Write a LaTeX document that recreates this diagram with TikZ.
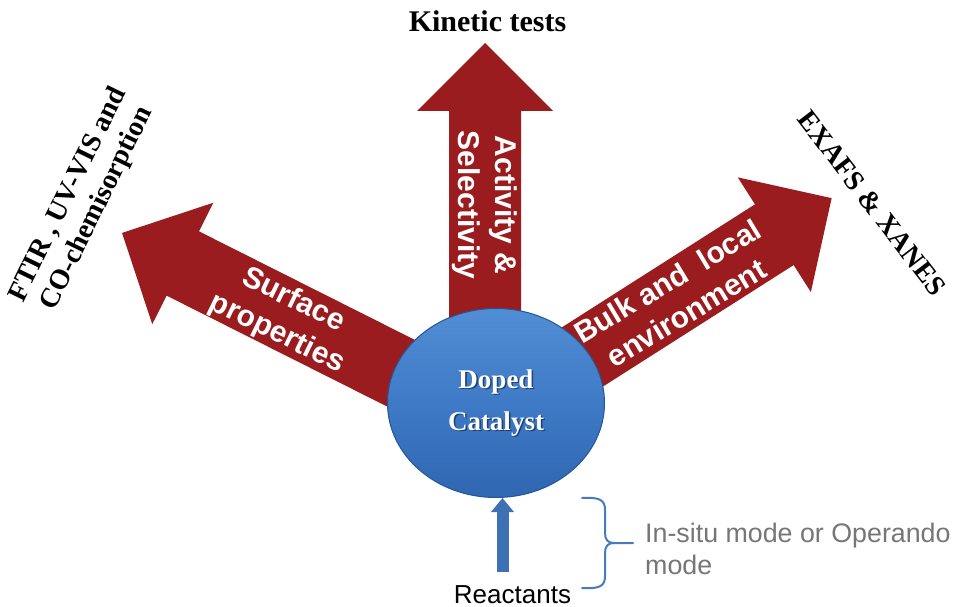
\documentclass[tikz,border=0pt]{standalone}
\usepackage{fontspec}
\setmainfont{Liberation Serif}
\newfontfamily\arialfont{Liberation Sans}
\usetikzlibrary{arrows.meta,shapes.geometric}

\definecolor{arrowred}{RGB}{155,28,30}
\definecolor{catlight}{RGB}{82,142,212}
\definecolor{catmid}{RGB}{62,122,198}
\definecolor{catdark}{RGB}{48,102,178}
\definecolor{catrim}{RGB}{38,84,150}
\definecolor{feedblue}{RGB}{62,112,182}
\definecolor{bracecol}{RGB}{72,122,192}
\definecolor{notegray}{RGB}{118,118,118}

% block arrow: #1 base coordinate, #2 direction (deg), #3 length
\newcommand\fatarrow[3]{%
  \fill[arrowred, shift={(#1)}, rotate=#2]
    (0,-36) -- (#3-68,-36) -- (#3-68,-68) -- (#3,0)
    -- (#3-68,68) -- (#3-68,36) -- (0,36) -- cycle;}

\begin{document}
\begin{tikzpicture}[x=1pt,y=-1pt,
  arrowtext/.style={text=white, inner sep=0, align=center,
    font=\arialfont\bfseries\fontsize{30}{37}\selectfont},
  method/.style={inner sep=0, align=center,
    font=\bfseries\fontsize{28}{32}\selectfont},
  catshape/.style={ellipse, minimum width=217, minimum height=189, inner sep=0,
    top color=catlight, bottom color=catdark, middle color=catmid,
    draw=catrim, line width=1},
  cattext/.style={inner sep=0, align=center,
    font=\bfseries\fontsize{27}{42}\selectfont},
  feed/.style={feedblue, line width=12, -{Triangle[width=22pt,length=14pt]}},
  bracestyle/.style={bracecol, line width=2, line cap=round, line join=round},
  note/.style={inner sep=0, align=left, text=notegray,
    font=\arialfont\fontsize{26.8}{32}\selectfont}]

\useasboundingbox (0,0) rectangle (960,607);
\fill[white] (0,0) rectangle (960,607);

% base points of the three block arrows (inside the catalyst disc)
\coordinate (baseL) at (496,421);
\coordinate (baseU) at (485,403);
\coordinate (baseR) at (496,412);

\fatarrow{baseL}{153.3}{418.6}
\fatarrow{baseU}{90}{360}
\fatarrow{baseR}{32.5}{398}

% central catalyst disc
\node[catshape] (cat) at (496,403) {};
\node[cattext, text=black, opacity=.45] (catshade) at (cat) [xshift=1.5pt, yshift=-1.5pt] {Doped\\Catalyst};
\node[cattext, text=white] (catlabel) at (cat) {Doped\\Catalyst};

% labels along the block arrows
\node[arrowtext, rotate=-90] (actsel) at (485,205) {Activity \&\\Selectivity};
\node[arrowtext, rotate=-26] (surf) at (285,317) {Surface\\properties};
\node[arrowtext, rotate=31] (bulk) at (677,297) {Bulk and~~local\\environment};

% characterisation methods at the arrow heads
\node[method, anchor=base, font=\bfseries\fontsize{30}{34}\selectfont] (kin) at (487.5,32) {Kinetic tests};
\node[method, rotate=64] (ftir) at (83,202) {FTIR , UV-VIS and\\CO-chemisorption};
\node[method, rotate=-52.5] (exafs) at (872,203) {EXAFS \& XANES};

% reactant feed
\node[inner sep=0, anchor=base, font=\arialfont\fontsize{26}{30}\selectfont] (react) at (512.5,603) {Reactants};
\coordinate (feedstart) at (502.5,572);
\draw[feed] (feedstart) -- (feedstart |- cat.south);

% brace and operating-mode note
\coordinate (braceTop) at (582,498);
\coordinate (braceBot) at (582,588);
\coordinate (braceTip) at (633,543);
\draw[bracestyle] (braceTop) .. controls (600,497) and (605,500) .. (605,510)
  -- (605,533) .. controls (605,540) and (608,543) .. (614,543) -- (braceTip);
\draw[bracestyle] (614,543) .. controls (608,543) and (605,546) .. (605,553)
  -- (605,576) .. controls (605,586) and (600,589) .. (braceBot);
\node[note, anchor=north west] (mode) at (645,522.5) {In-situ mode or Operando\\mode};

\end{tikzpicture}
\end{document}
